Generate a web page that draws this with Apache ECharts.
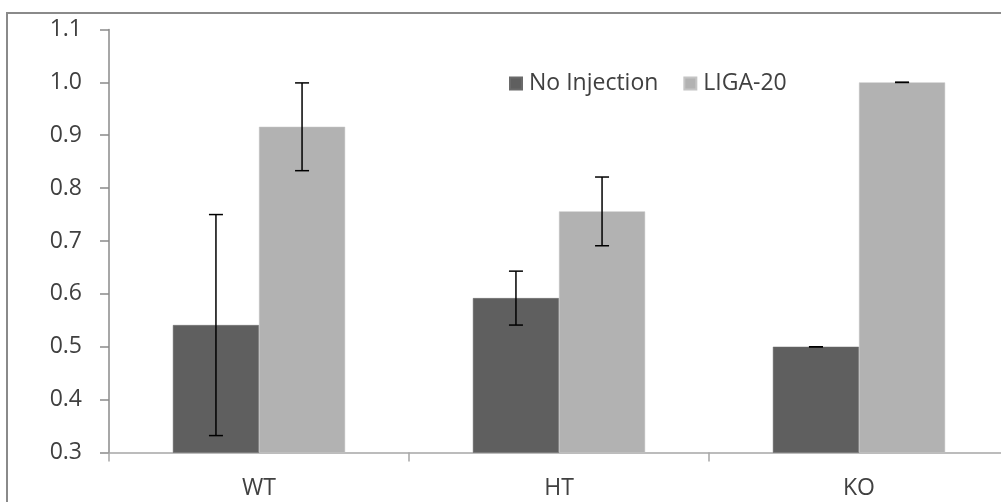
<!DOCTYPE html>
<html>
<head>
<meta charset="utf-8">
<style>
  html, body { margin: 0; padding: 0; background: #ffffff; overflow: hidden; }
  #chart { width: 1010px; height: 502px; }
</style>
<script src="https://cdn.jsdelivr.net/npm/echarts@6/dist/echarts.min.js"></script>
</head>
<body>
<div id="chart"></div>
<script>
// Genotype groups along the x axis
const categories = ['WT', 'HT', 'KO'];
const seriesNames = ['No Injection', 'LIGA-20'];

// Mean values per group
const noInjection = [0.541, 0.592, 0.500];
const liga20 = [0.916, 0.756, 1.000];

// Symmetric error (± value) per group
const noInjectionErr = [0.209, 0.051, 0.0];
const liga20Err = [0.083, 0.065, 0.0];

// Y axis ticks
const yMin = 0.3;
const yMax = 1.1;
const yStep = 0.1;

const colors = ['#5f5f5f', '#b2b2b2'];
const textColor = '#404040';
const FONT = '"Open Sans", "Noto Sans", sans-serif';
const FONT_SIZE = 23;

const CATEGORY_GAP = 0.426; // fraction of each category left empty

// Build [catIndex, mean, err] rows for the error-bar overlay
function errRows(means, errs) {
  return means.map((m, i) => [i, m, errs[i]]);
}

// Draws one vertical whisker with caps, shifted onto its bar
function makeErrorRenderer(seriesIdx) {
  return function (params, api) {
    const cat = api.value(0);
    const mean = api.value(1);
    const err = api.value(2);
    const band = api.size([1, 0])[0];
    const barW = band * (1 - CATEGORY_GAP) / 2;
    const shift = (seriesIdx === 0 ? -1 : 1) * barW / 2;
    const hi = api.coord([cat, mean + err]);
    const lo = api.coord([cat, mean - err]);
    const x = hi[0] + shift;
    const capHalf = 7;
    const style = { stroke: '#000000', lineWidth: 1.5 };
    return {
      type: 'group',
      children: [
        { type: 'line', shape: { x1: x, y1: hi[1], x2: x, y2: lo[1] }, style },
        { type: 'line', shape: { x1: x - capHalf, y1: hi[1], x2: x + capHalf, y2: hi[1] }, style },
        { type: 'line', shape: { x1: x - capHalf, y1: lo[1], x2: x + capHalf, y2: lo[1] }, style }
      ]
    };
  };
}

const chart = echarts.init(document.getElementById('chart'), null, { renderer: 'canvas' });

chart.setOption({
  animation: false,
  backgroundColor: '#ffffff',
  color: colors,
  textStyle: { fontFamily: FONT, color: textColor },
  graphic: [
    // chart-area frame along the top and left
    { type: 'rect', left: 6, top: 12, shape: { width: 1010, height: 2 }, style: { fill: '#8a8a8a' }, z: 10 },
    { type: 'rect', left: 6, top: 12, shape: { width: 2, height: 500 }, style: { fill: '#8a8a8a' }, z: 10 }
  ],
  legend: {
    data: seriesNames,
    left: 504,
    top: 67,
    icon: 'rect',
    itemWidth: 12,
    itemHeight: 12,
    itemGap: 25,
    textStyle: { fontFamily: FONT, fontSize: FONT_SIZE, color: textColor, padding: [0, 0, 0, 2] }
  },
  grid: {
    left: 109,
    width: 900,
    top: 29.5,
    height: 423
  },
  xAxis: {
    type: 'category',
    data: categories,
    axisLine: { lineStyle: { color: '#a6a6a6', width: 1.5 } },
    axisTick: { show: true, length: 9, lineStyle: { color: '#a6a6a6', width: 1.5 } },
    axisLabel: { fontFamily: FONT, fontSize: FONT_SIZE, color: textColor, margin: 24 },
    splitLine: { show: false }
  },
  yAxis: {
    type: 'value',
    min: yMin,
    max: yMax,
    interval: yStep,
    axisLine: { show: true, lineStyle: { color: '#8a8a8a', width: 1.5 } },
    axisTick: { show: true, length: 9, lineStyle: { color: '#8a8a8a', width: 1.5 } },
    axisLabel: {
      fontFamily: FONT, fontSize: FONT_SIZE, color: textColor, margin: 27,
      formatter: v => v.toFixed(1)
    },
    splitLine: { show: false }
  },
  series: [
    {
      name: seriesNames[0],
      type: 'bar',
      data: noInjection,
      barGap: '0%',
      barCategoryGap: (CATEGORY_GAP * 100) + '%',
      itemStyle: { color: colors[0], borderColor: '#6a6a6a', borderWidth: 0.5 }
    },
    {
      name: seriesNames[1],
      type: 'bar',
      data: liga20,
      barGap: '0%',
      barCategoryGap: (CATEGORY_GAP * 100) + '%',
      itemStyle: { color: colors[1], borderColor: '#c4c4c4', borderWidth: 0.5 }
    },
    {
      type: 'custom',
      name: 'err0',
      renderItem: makeErrorRenderer(0),
      data: errRows(noInjection, noInjectionErr),
      encode: { x: 0, y: 1 },
      z: 5,
      silent: true
    },
    {
      type: 'custom',
      name: 'err1',
      renderItem: makeErrorRenderer(1),
      data: errRows(liga20, liga20Err),
      encode: { x: 0, y: 1 },
      z: 5,
      silent: true
    }
  ]
});
</script>
</body>
</html>
